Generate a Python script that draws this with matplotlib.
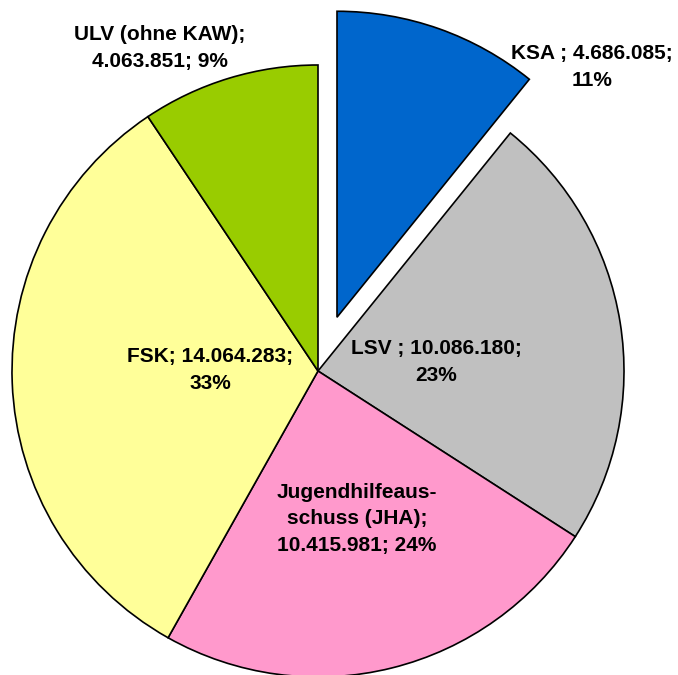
import matplotlib
matplotlib.use('Agg')
import matplotlib.pyplot as plt

# budget shares
labels = ['KSA', 'LSV', 'JHA', 'FSK', 'ULV']
values = [4686085, 10086180, 10415981, 14064283, 4063851]
texts = ['KSA ; 4.686.085;\n11%',
         'LSV ; 10.086.180;\n23%',
         'Jugendhilfeaus-\nschuss (JHA);\n10.415.981; 24%',
         'FSK; 14.064.283;\n33%',
         'ULV (ohne KAW);\n4.063.851; 9%']
colors = ['#0066CC', '#C0C0C0', '#FF99CC', '#FFFF99', '#99CC00']
explode = [57, 0, 0, 0, 0]  # pixel units, pie does not scale explode by radius

# label positions in pixel coords (x from left, y from top)
text_pos = [(592, 67), (436, 362), (357, 519), (210, 370), (160, 48)]

W, H = 678, 675
fig = plt.figure(figsize=(W / 100, H / 100), dpi=100)
ax = fig.add_axes([0, 0, 1, 1])

cx, cy, r = 318, H - 371, 306
ax.pie(values, colors=colors, explode=explode, startangle=90,
       counterclock=False, center=(cx, cy), radius=r, frame=True,
       wedgeprops=dict(edgecolor='black', linewidth=1.2))
ax.set_xlim(0, W)
ax.set_ylim(0, H)
ax.set_aspect('equal')
ax.axis('off')

for t, (x, y) in zip(texts, text_pos):
    ax.text(x, H - y, t, ha='center', va='center', fontsize=15,
            fontweight='bold', family='Liberation Sans', linespacing=1.5)

fig.savefig('out.png', dpi=100, facecolor='white')
